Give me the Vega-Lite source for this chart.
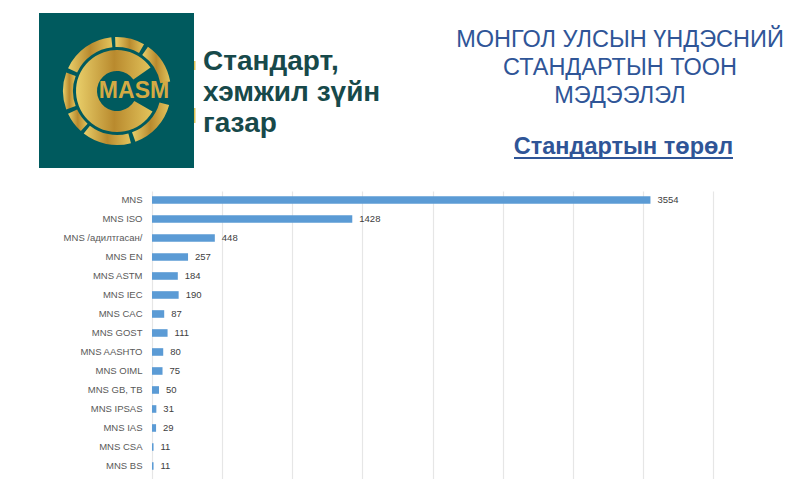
{
"$schema":"https://vega.github.io/schema/vega-lite/v6.json",
"padding":0,
"background":"white",
"spacing":1,
"config":{"view":{"stroke":null},"font":"Liberation Sans"},
"vconcat":[
{
"width":648,"height":190,
"encoding":{
"x":{"field":"x","type":"quantitative","axis":null,"scale":{"domain":[152,800],"nice":false,"zero":false}},
"y":{"field":"y","type":"quantitative","axis":null,"scale":{"domain":[190,0],"nice":false,"zero":false}}
},
"layer":[
{"data":{"values":[{"x":39,"x2":194,"y":13,"y2":168}]},
 "mark":{"type":"rect","color":"#005a5e"},
 "encoding":{"x2":{"field":"x2"},"y2":{"field":"y2"}}},
{"data":{"values":[{"x":194,"x2":195.5,"y":61,"y2":70},{"x":194,"x2":195.5,"y":108,"y2":123}]},
 "mark":{"type":"rect","color":"#e3c45c"},
 "encoding":{"x2":{"field":"x2"},"y2":{"field":"y2"}}},
{"data":{"values":[
{"x":117,"y":91,"a":-0.035,"b":0.524,"r":44,"r2":54},
{"x":117,"y":91,"a":0.611,"b":1.396,"r":44,"r2":54},
{"x":117,"y":91,"a":1.833,"b":2.793,"r":44,"r2":54},
{"x":117,"y":91,"a":2.880,"b":3.805,"r":44,"r2":54},
{"x":117,"y":91,"a":3.875,"b":4.276,"r":44,"r2":54},
{"x":117,"y":91,"a":4.363,"b":5.061,"r":44,"r2":54},
{"x":117,"y":91,"a":5.149,"b":6.178,"r":44,"r2":54},
{"x":117,"y":91,"a":2.094,"b":7.243,"r":20,"r2":41}
]},
 "mark":{"type":"arc","color":{"gradient":"linear","x1":0,"y1":0,"x2":1,"y2":0,"stops":[{"offset":0,"color":"#e9cf6a"},{"offset":0.5,"color":"#b98a2e"},{"offset":1,"color":"#e3c45c"}]}},
 "encoding":{
  "theta":{"field":"a","type":"quantitative","scale":null,"stack":null},
  "theta2":{"field":"b"},
  "radius":{"field":"r","type":"quantitative","scale":null},
  "radius2":{"field":"r2"}
 }},
{"data":{"values":[{"x":134,"y":91,"t":"MASM"}]},
 "mark":{"type":"text","fontSize":23,"fontWeight":"bold","color":"#d4aa44","align":"center","baseline":"middle"},
 "encoding":{"text":{"field":"t"}}},
{"data":{"values":[{"x":203,"y":62,"t":"Стандарт,"},{"x":203,"y":93,"t":"хэмжил зүйн"},{"x":203,"y":124,"t":"газар"}]},
 "mark":{"type":"text","fontSize":28,"fontWeight":"bold","color":"#17494a","align":"left","baseline":"middle"},
 "encoding":{"text":{"field":"t"}}},
{"data":{"values":[{"x":620,"y":40,"t":"МОНГОЛ УЛСЫН ҮНДЭСНИЙ"},{"x":620,"y":68,"t":"СТАНДАРТЫН ТООН"},{"x":620,"y":96,"t":"МЭДЭЭЛЭЛ"}]},
 "mark":{"type":"text","fontSize":23.5,"color":"#2f5597","align":"center","baseline":"middle"},
 "encoding":{"text":{"field":"t"}}},
{"data":{"values":[{"x":623.5,"y":147,"t":"Стандартын төрөл"}]},
 "mark":{"type":"text","fontSize":23.5,"fontWeight":"bold","color":"#2f5597","align":"center","baseline":"middle"},
 "encoding":{"text":{"field":"t"}}},
{"data":{"values":[{"x":514,"x2":733,"y":158}]},
 "mark":{"type":"rule","color":"#2f5597","strokeWidth":2},
 "encoding":{"x2":{"field":"x2"}}}
]
},
{
"width":561,"height":288,
"data":{"values":[
{"name":"MNS","value":3554},
{"name":"MNS ISO","value":1428},
{"name":"MNS /адилтгасан/","value":448},
{"name":"MNS EN","value":257},
{"name":"MNS ASTM","value":184},
{"name":"MNS IEC","value":190},
{"name":"MNS CAC","value":87},
{"name":"MNS GOST","value":111},
{"name":"MNS AASHTO","value":80},
{"name":"MNS OIML","value":75},
{"name":"MNS GB, TB","value":50},
{"name":"MNS IPSAS","value":31},
{"name":"MNS IAS","value":29},
{"name":"MNS CSA","value":11},
{"name":"MNS BS","value":11}
]},
"encoding":{
"y":{"field":"name","type":"nominal","sort":null,"title":null,
 "scale":{"paddingInner":0.6,"paddingOuter":0.379,"align":0.36},
 "axis":{"domain":false,"ticks":false,"labelFontSize":9.5,"labelColor":"#595959","labelPadding":10,"minExtent":152,"maxExtent":152,"labelLimit":140}},
"x":{"field":"value","type":"quantitative","title":null,
 "scale":{"domain":[0,4000],"nice":false},
 "axis":{"values":[0,500,1000,1500,2000,2500,3000,3500,4000],"domain":false,"ticks":false,"labels":false,"grid":true,"gridColor":"#e6e6e6","gridWidth":1.2}}
},
"layer":[
{"mark":{"type":"bar","color":"#5b9bd5"}},
{"mark":{"type":"text","align":"left","baseline":"middle","dx":7,"fontSize":9.5,"color":"#404040"},
 "encoding":{"text":{"field":"value","type":"quantitative","format":"d"}}}
]
}
]
}
